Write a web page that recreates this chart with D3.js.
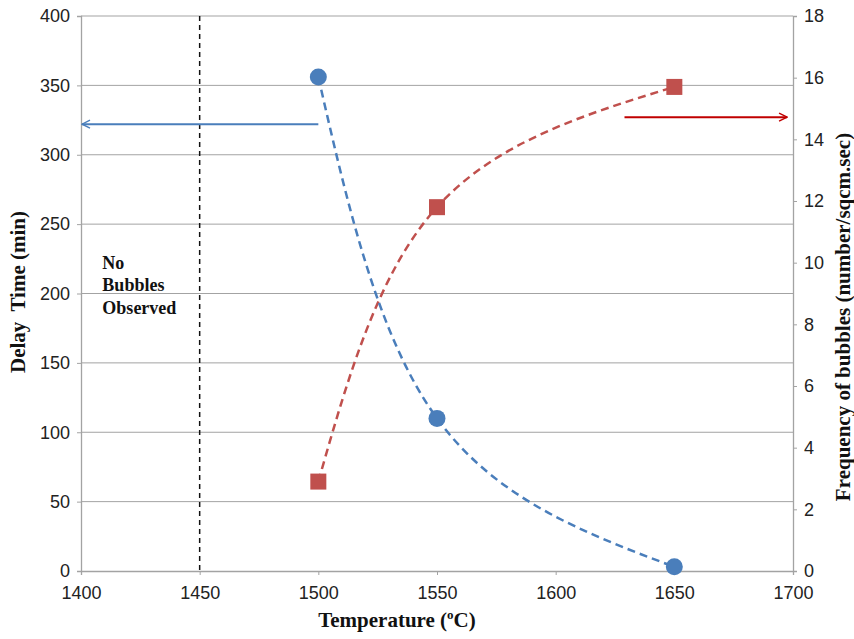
<!DOCTYPE html>
<html>
<head>
<meta charset="utf-8">
<script src="https://cdn.jsdelivr.net/npm/d3@7"></script>
<style>
  body { margin: 0; background: #fff; }
  svg { display: block; }
</style>
</head>
<body>
<div id="graf"></div>
<script>
// data
const temps = [1500, 1550, 1650];
const delayTime = [356, 110, 3];        // left axis, min
const frequency = [2.9, 11.8, 15.7];    // right axis, number/sqcm.sec
const xTicks = [1400, 1450, 1500, 1550, 1600, 1650, 1700];
const leftTicks = [0, 50, 100, 150, 200, 250, 300, 350, 400];
const rightTicks = [0, 2, 4, 6, 8, 10, 12, 14, 16, 18];
const noBubbleLine = 1450;
const noteLines = ["No", "Bubbles", "Observed"];
// arrows pointing at the axis each series uses
const blueArrow = { from: 1500, to: 1400, y: 322 };
const redArrow = { from: 1629, to: 1697.5, y: 14.72 };

const width = 854, height = 639;
const m = { left: 81, right: 854 - 793, top: 16, bottom: 639 - 571 };

const x = d3.scaleLinear().domain([1400, 1700]).range([m.left, width - m.right]);
const yL = d3.scaleLinear().domain([0, 400]).range([height - m.bottom, m.top]);
const yR = d3.scaleLinear().domain([0, 18]).range([height - m.bottom, m.top]);

const grey = "#a3a3a3";
const blue = "#4a7ebb";
const red = "#c0504d";
const sans = "'Liberation Sans', Arial, sans-serif";
const serif = "'Liberation Serif', 'Times New Roman', serif";

let svg = d3.select("#graf").append("svg")
    .attr("width", width)
    .attr("height", height)
    .attr("viewBox", [0, 0, width, height]);

const defs = svg.append("defs");
[["arrBlue", blue], ["arrRed", "#c00000"]].forEach(([id, c]) => {
    defs.append("marker")
        .attr("id", id)
        .attr("viewBox", "0 -5 10 10")
        .attr("refX", 9).attr("refY", 0)
        .attr("markerWidth", 5).attr("markerHeight", 5)
        .attr("markerUnits", "strokeWidth")
        .attr("orient", "auto")
        .append("path")
        .attr("d", "M1,-4L9,0L1,4")
        .attr("fill", "none")
        .attr("stroke", c)
        .attr("stroke-width", 1.4);
});

// gridlines
svg.append("g")
    .selectAll("line")
    .data(leftTicks.slice(1))
    .join("line")
    .attr("x1", x(1400)).attr("x2", x(1700))
    .attr("y1", d => yL(d)).attr("y2", d => yL(d))
    .attr("stroke", grey)
    .attr("stroke-width", 1);

// axes
const styleAxis = g => {
    g.select(".domain").attr("stroke", grey).attr("stroke-width", 1.3);
    g.selectAll(".tick line").attr("stroke", grey);
    g.selectAll(".tick text")
        .attr("fill", "#222")
        .style("font-family", sans)
        .style("font-size", "18px");
};

svg.append("g")
    .attr("transform", `translate(0,${yL(0)})`)
    .call(d3.axisBottom(x).tickValues(xTicks).tickSize(4).tickPadding(11).tickFormat(d3.format("d")))
    .call(styleAxis);

svg.append("g")
    .attr("transform", `translate(${x(1400)},0)`)
    .call(d3.axisLeft(yL).tickValues(leftTicks).tickSize(4).tickPadding(7))
    .call(styleAxis);

svg.append("g")
    .attr("transform", `translate(${x(1700)},0)`)
    .call(d3.axisRight(yR).tickValues(rightTicks).tickSize(4).tickPadding(7))
    .call(styleAxis);

// dashed line at 1450
svg.append("line")
    .attr("x1", x(noBubbleLine)).attr("x2", x(noBubbleLine))
    .attr("y1", yL(400)).attr("y2", yL(0))
    .attr("stroke", "#111")
    .attr("stroke-width", 1.5)
    .attr("stroke-dasharray", "5,4");

// note text
svg.append("text")
    .attr("x", x(1409))
    .attr("y", yL(218))
    .style("font-family", serif)
    .style("font-size", "18px")
    .style("font-weight", "bold")
    .attr("fill", "#111")
    .selectAll("tspan")
    .data(noteLines)
    .join("tspan")
    .attr("x", x(1409))
    .attr("dy", (d, i) => i ? 22.5 : 0)
    .text(d => d);

// smoothed dashed curves
const line = (ys, yScale) => d3.line()
    .x((d, i) => x(temps[i]))
    .y(d => yScale(d))
    .curve(d3.curveNatural)(ys);

svg.append("path")
    .attr("d", line(frequency, yR))
    .attr("fill", "none")
    .attr("stroke", red)
    .attr("stroke-width", 2.5)
    .attr("stroke-dasharray", "8,5");

svg.append("path")
    .attr("d", line(delayTime, yL))
    .attr("fill", "none")
    .attr("stroke", blue)
    .attr("stroke-width", 2.5)
    .attr("stroke-dasharray", "8,5");

// markers
svg.append("g")
    .selectAll("circle")
    .data(delayTime)
    .join("circle")
    .attr("cx", (d, i) => x(temps[i]))
    .attr("cy", d => yL(d))
    .attr("r", 8.5)
    .attr("fill", blue);

const sq = 16;
svg.append("g")
    .selectAll("rect")
    .data(frequency)
    .join("rect")
    .attr("x", (d, i) => x(temps[i]) - sq / 2)
    .attr("y", d => yR(d) - sq / 2)
    .attr("width", sq).attr("height", sq)
    .attr("fill", red);

// arrows
svg.append("line")
    .attr("x1", x(blueArrow.from)).attr("x2", x(blueArrow.to) + 1)
    .attr("y1", yL(blueArrow.y)).attr("y2", yL(blueArrow.y))
    .attr("stroke", blue)
    .attr("stroke-width", 2)
    .attr("marker-end", "url(#arrBlue)");

svg.append("line")
    .attr("x1", x(redArrow.from)).attr("x2", x(redArrow.to))
    .attr("y1", yR(redArrow.y)).attr("y2", yR(redArrow.y))
    .attr("stroke", "#c00000")
    .attr("stroke-width", 2)
    .attr("marker-end", "url(#arrRed)");

// axis titles
const xt = svg.append("text")
    .attr("x", 397)
    .attr("y", 627)
    .attr("text-anchor", "middle")
    .style("font-family", serif)
    .style("font-size", "21px")
    .style("font-weight", "bold")
    .attr("fill", "#111");
xt.append("tspan").text("Temperature (");
xt.append("tspan").attr("dy", -8).style("font-size", "13px").text("o");
xt.append("tspan").attr("dy", 8).text("C)");

svg.append("text")
    .attr("transform", `translate(25,292) rotate(-90)`)
    .attr("text-anchor", "middle")
    .style("font-family", serif)
    .style("font-size", "21px")
    .style("font-weight", "bold")
    .style("white-space", "pre")
    .attr("fill", "#111")
    .text("Delay  Time (min)");

svg.append("text")
    .attr("transform", `translate(850,317) rotate(-90)`)
    .attr("text-anchor", "middle")
    .style("font-family", serif)
    .style("font-size", "21px")
    .style("font-weight", "bold")
    .attr("fill", "#111")
    .text("Frequency of bubbles (number/sqcm.sec)");
</script>
</body>
</html>
